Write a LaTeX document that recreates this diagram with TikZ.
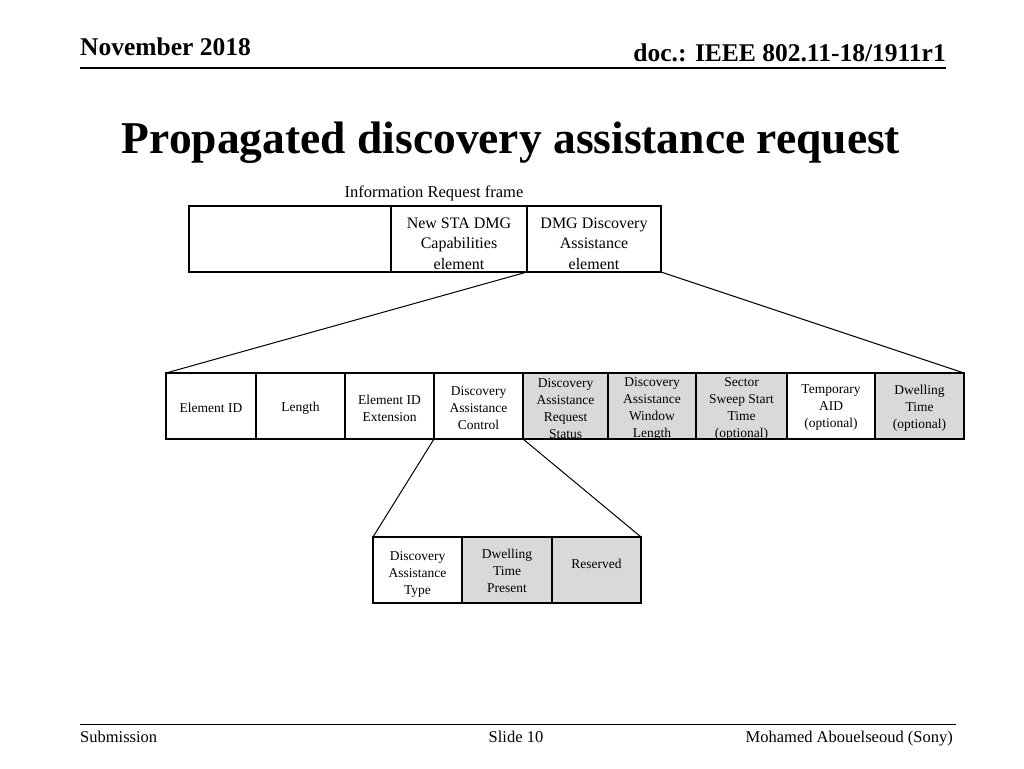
\documentclass[tikz,border=0pt]{standalone}
\usepackage{fontspec}
\setmainfont{Liberation Serif}
\definecolor{graybox}{HTML}{D9D9D9}
\begin{document}
\begin{tikzpicture}[x=1pt,y=-1pt,
  cellbase/.style={draw, line width=1.2pt, inner sep=0pt, outer sep=0pt, anchor=north west},
  cell/.style={cellbase, minimum width=#1, minimum height=66pt},
  gcell/.style={cell=#1, fill=graybox},
  mtxt/.style={inner sep=0pt, align=center, font=\fontsize{13.5}{17}\selectfont},
  ttxt/.style={inner sep=0pt, align=center, font=\fontsize{16}{20.5}\selectfont},
  conn/.style={line width=1pt},
  rule/.style={line width=1.5pt},
  hdr/.style={font=\bfseries\fontsize{25.5}{28}\selectfont, inner sep=0pt, anchor=base west},
  ftr/.style={font=\fontsize{16.5}{19}\selectfont, inner sep=0pt}
]
\useasboundingbox (0,0) rectangle (1024,768);
\fill[white] (0,0) rectangle (1024,768);
% header
\node[hdr] (date) at (80,56) {November 2018};
\node[hdr, anchor=base east] (doc) at (946,62) {doc.: IEEE 802.11-18/1911r1};
\coordinate (hl) at (80,68);
\coordinate (hr) at (946,68);
\draw[rule] (hl) -- (hr);
% title
\node[font=\bfseries\fontsize{45.5}{50}\selectfont, inner sep=0pt, anchor=base] (title) at (511,153) {Propagated discovery assistance request};
% top frame
\node[font=\fontsize{16.5}{19}\selectfont, inner sep=0pt, anchor=base] (irf) at (434,197) {Information Request frame};
\node[cell=202] (f1) at (189,206) {};
\node[cell=136] (nsta) at (391,206) {};
\node[cell=134] (dmg) at (527,206) {};
\node[ttxt, yshift=-4.5pt] (nsta-t) at (nsta.center) {New STA DMG\\Capabilities\\element};
\node[ttxt, yshift=-4.5pt] (dmg-t) at (dmg.center) {DMG Discovery\\Assistance\\element};
% middle row
\node[cell=90] (eid) at (166,373) {};
\node[cell=89] (len) at (256,373) {};
\node[cell=89] (eidx) at (345,373) {};
\node[cell=89] (dac) at (434,373) {};
\node[gcell=85] (dars) at (523,373) {};
\node[gcell=88] (dawl) at (608,373) {};
\node[gcell=91] (ssst) at (696,373) {};
\node[cell=88] (taid) at (787,373) {};
\node[gcell=89] (dwt) at (875,373) {};
\node[mtxt, yshift=-2pt] (eid-t) at (eid.center) {Element ID};
\node[mtxt, yshift=-2pt] (len-t) at (len.center) {Length};
\node[mtxt, yshift=-2pt] (eidx-t) at (eidx.center) {Element ID\\Extension};
\node[mtxt, yshift=-2pt] (dac-t) at (dac.center) {Discovery\\Assistance\\Control};
\node[mtxt, yshift=-2.5pt] (dars-t) at (dars.center) {Discovery\\Assistance\\Request\\Status};
\node[mtxt, yshift=-2.5pt] (dawl-t) at (dawl.center) {Discovery\\Assistance\\Window\\Length};
\node[mtxt, yshift=-2.5pt] (ssst-t) at (ssst.center) {Sector\\Sweep Start\\Time\\(optional)};
\node[mtxt, yshift=-2pt] (taid-t) at (taid.center) {Temporary\\AID\\(optional)};
\node[mtxt, yshift=-2pt] (dwt-t) at (dwt.center) {Dwelling\\Time\\(optional)};
% bottom row
\node[cell=89] (dat) at (373,537) {};
\node[gcell=90] (dtp) at (462,537) {};
\node[gcell=89] (res) at (552,537) {};
\node[mtxt, yshift=-4pt] (dat-t) at (dat.center) {Discovery\\Assistance\\Type};
\node[mtxt, yshift=-1pt] (dtp-t) at (dtp.center) {Dwelling\\Time\\Present};
\node[mtxt, yshift=6pt] (res-t) at (res.center) {Reserved};
% connectors
\draw[conn] (dmg.south west) -- (eid.north west);
\draw[conn] (dmg.south east) -- (dwt.north east);
\draw[conn] (dac.south west) -- (dat.north west);
\draw[conn] (dac.south east) -- (res.north east);
% footer
\coordinate (fl) at (80,724);
\coordinate (fr) at (956,724);
\draw[line width=1pt] (fl) -- (fr);
\node[ftr, anchor=base west] (sub) at (80,742) {Submission};
\node[ftr, anchor=base] (slide) at (516,742) {Slide 10};
\node[ftr, anchor=base east] (auth) at (953,742) {Mohamed Abouelseoud (Sony)};
\end{tikzpicture}
\end{document}
